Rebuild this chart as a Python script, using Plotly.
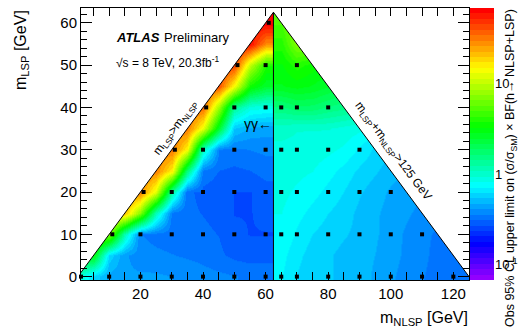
import colorsys
import numpy as np
import plotly.graph_objects as go

# ---------------- data ----------------
# Left region (m_NLSP < 62.5 GeV): observed limits, rows = m_LSP values
left_x = [0, 5, 10, 15, 20, 25, 30, 35, 40, 45, 50, 55, 60]
left_y = [0, 5, 10, 15, 20, 25, 30, 35, 40, 45, 50, 55, 60]
left_limit = [
    [1.0, 0.60, 0.45, 0.42, 0.42, 0.42, 0.41, 0.40, 0.38, 0.37, 0.36, 0.35, 0.35],
    [3.0, 3.0, 0.60, 0.42, 0.38, 0.37, 0.36, 0.35, 0.34, 0.32, 0.30, 0.29, 0.29],
    [7.0, 7.0, 7.0, 1.1, 0.36, 0.34, 0.33, 0.32, 0.32, 0.31, 0.28, 0.27, 0.27],
    [20, 20, 20, 20, 7.0, 1.1, 0.34, 0.32, 0.31, 0.30, 0.27, 0.27, 0.28],
    [30, 30, 30, 30, 30, 12, 1.3, 0.32, 0.30, 0.29, 0.27, 0.27, 0.29],
    [30, 30, 30, 30, 30, 30, 15, 1.6, 0.34, 0.31, 0.30, 0.31, 0.33],
    [32, 32, 32, 32, 32, 32, 32, 15, 1.1, 0.36, 0.35, 0.36, 0.37],
    [32, 32, 32, 32, 32, 32, 32, 32, 13, 2.5, 0.55, 0.46, 0.44],
    [35, 35, 35, 35, 35, 35, 35, 35, 35, 8.0, 1.4, 0.90, 0.85],
    [40, 40, 40, 40, 40, 40, 40, 40, 40, 40, 14, 3.5, 2.5],
    [45, 45, 45, 45, 45, 45, 45, 45, 45, 45, 45, 10, 3.8],
    [60, 60, 60, 60, 60, 60, 60, 60, 60, 60, 60, 60, 28],
    [65, 65, 65, 65, 65, 65, 65, 65, 65, 65, 65, 65, 65],
]

# Right region (m_NLSP > 62.5 GeV)
right_x = [65, 70, 75, 80, 85, 90, 95, 100, 105, 110, 115, 120, 125]
right_y = [0, 5, 10, 15, 20, 25, 30, 35, 40, 45, 50, 55, 60]
right_limit = [
    [0.72, 0.62, 0.56, 0.55, 0.52, 0.50, 0.46, 0.42, 0.39, 0.36, 0.34, 0.32, 0.32],
    [0.75, 0.65, 0.58, 0.55, 0.52, 0.50, 0.47, 0.43, 0.40, 0.37, 0.34, 0.33, 0.33],
    [0.80, 0.70, 0.62, 0.58, 0.55, 0.52, 0.48, 0.44, 0.40, 0.37, 0.35, 0.34, 0.34],
    [0.82, 0.75, 0.68, 0.62, 0.58, 0.52, 0.48, 0.45, 0.42, 0.39, 0.37, 0.36, 0.36],
    [0.85, 0.80, 0.75, 0.68, 0.62, 0.55, 0.50, 0.46, 0.44, 0.42, 0.40, 0.40, 0.40],
    [0.88, 0.85, 0.82, 0.75, 0.68, 0.60, 0.55, 0.50, 0.46, 0.44, 0.42, 0.42, 0.42],
    [0.90, 0.90, 0.88, 0.85, 0.80, 0.70, 0.60, 0.55, 0.50, 0.48, 0.45, 0.45, 0.45],
    [1.00, 0.95, 0.95, 0.95, 0.90, 0.85, 0.75, 0.65, 0.60, 0.55, 0.50, 0.50, 0.50],
    [1.6, 1.8, 1.8, 1.6, 1.5, 1.3, 1.1, 0.90, 0.80, 0.70, 0.60, 0.60, 0.60],
    [2.8, 3.0, 2.8, 2.5, 2.2, 2.0, 1.8, 1.6, 1.4, 1.2, 1.0, 1.0, 1.0],
    [3.2, 4.0, 3.5, 3.0, 2.8, 2.5, 2.2, 2.0, 1.8, 1.6, 1.4, 1.4, 1.4],
    [4.0, 7.0, 7.0, 6.0, 5.0, 4.0, 3.5, 3.0, 2.5, 2.2, 2.0, 2.0, 2.0],
    [5.0, 8.0, 8.0, 7.0, 6.0, 5.0, 4.0, 3.5, 3.0, 2.5, 2.2, 2.2, 2.2],
]

# Signal grid points (black squares)
pts_x = [1, 10, 20, 30, 40, 50, 60,
         11, 20, 30, 40, 50, 60,
         21, 30, 40, 50, 60,
         31, 40, 50, 60,
         41, 50, 60,
         51, 60,
         61,
         65, 70, 80, 90, 100, 110, 120,
         65, 70, 80, 90, 100, 110,
         65, 70, 80, 90, 100,
         65, 70, 80, 90,
         65, 70, 80,
         70]
pts_y = [0, 0, 0, 0, 0, 0, 0,
         10, 10, 10, 10, 10, 10,
         20, 20, 20, 20, 20,
         30, 30, 30, 30,
         40, 40, 40,
         50, 50,
         60,
         0, 0, 0, 0, 0, 0, 0,
         10, 10, 10, 10, 10, 10,
         20, 20, 20, 20, 20,
         30, 30, 30, 30,
         40, 40, 40,
         50]

cbar_major = [0.1, 1, 10]
cbar_major_text = ["10<sup>-1</sup>", "1", "10"]
cbar_minor = [0.07, 0.08, 0.09, 0.2, 0.3, 0.4, 0.5, 0.6, 0.7, 0.8, 0.9,
              2, 3, 4, 5, 6, 7, 8, 9, 20, 30, 40, 50, 60]

ZMIN, ZMAX = -1.167, 1.835
FONT = "Liberation Sans, Arial, Helvetica, sans-serif"

# ---------------- geometry helpers (pixels -> paper) ----------------
ML, MR, MT, MB = 81, 0, 8, 49
PW = 520 - ML - MR
PH = 329 - MT - MB
def px(p):
    return (p - ML) / float(PW)
def py(p):
    return (329 - MB - p) / float(PH)

PLOT_RIGHT = 469
CB_LEFT, CB_RIGHT = 470, 494

# ---------------- ROOT "pretty" palette (50 colours) ----------------
def hls(h):
    r, g, b = colorsys.hls_to_rgb(h / 360.0, 0.5, 1.0)
    return "rgb(%d,%d,%d)" % (round(r * 255), round(g * 255), round(b * 255))

N = 50
cscale = []
for i in range(N):
    c = hls(280 - (i + 1) * 280.0 / N)
    cscale.append([i / N, c])
    cscale.append([(i + 1) / N, c])

fig = go.Figure()

fig.add_trace(go.Heatmap(
    x=left_x, y=left_y, z=np.log10(np.array(left_limit)),
    zsmooth="best", zmin=ZMIN, zmax=ZMAX, colorscale=cscale,
    hoverinfo="skip",
    colorbar=dict(
        x=px(CB_LEFT), xanchor="left", xpad=0, y=0.5, yanchor="middle", ypad=0,
        len=1.0, lenmode="fraction", thickness=CB_RIGHT - CB_LEFT, outlinewidth=0,
        showticklabels=False, ticks="",
    ),
))
fig.add_trace(go.Heatmap(
    x=right_x, y=right_y, z=np.log10(np.array(right_limit)),
    zsmooth="best", zmin=ZMIN, zmax=ZMAX, colorscale=cscale,
    showscale=False, hoverinfo="skip",
))

# white masks outside the kinematically allowed triangles
fig.add_trace(go.Scatter(
    x=[-5, 62.5, 62.5, -5, -5], y=[-5, 62.5, 70, 70, -5],
    fill="toself", fillcolor="white", line=dict(width=0), mode="lines",
    hoverinfo="skip", showlegend=False))
fig.add_trace(go.Scatter(
    x=[62.5, 130, 130, 62.5, 62.5], y=[62.5, -5, 70, 70, 62.5],
    fill="toself", fillcolor="white", line=dict(width=0), mode="lines",
    hoverinfo="skip", showlegend=False))

# boundary lines
fig.add_trace(go.Scatter(
    x=[0, 62.5, 125], y=[0, 62.5, 0], mode="lines",
    line=dict(color="black", width=1), hoverinfo="skip", showlegend=False))
fig.add_trace(go.Scatter(
    x=[62.5, 62.5], y=[-1, 62.5], mode="lines",
    line=dict(color="black", width=1), hoverinfo="skip", showlegend=False))

# signal points
fig.add_trace(go.Scatter(
    x=pts_x, y=pts_y, mode="markers",
    marker=dict(symbol="square", size=4, color="black", line=dict(width=0)),
    hoverinfo="skip", showlegend=False, cliponaxis=False))

# invisible trace to activate the colour-bar axis
fig.add_trace(go.Scatter(
    x=[None], y=[None], yaxis="y2", mode="markers",
    hoverinfo="skip", showlegend=False))

ann = []
ann.append(dict(x=11.4, y=56.5, xref="x", yref="y", xanchor="left", yanchor="middle",
                text="<b><i>ATLAS</i></b>", showarrow=False,
                font=dict(family=FONT, size=13, color="black")))
ann.append(dict(x=27.0, y=56.5, xref="x", yref="y", xanchor="left", yanchor="middle",
                text="Preliminary", showarrow=False,
                font=dict(family=FONT, size=13, color="black")))
ann.append(dict(x=11.4, y=50.8, xref="x", yref="y", xanchor="left", yanchor="middle",
                text="√s = 8 TeV, 20.3fb<sup>-1</sup>", showarrow=False,
                font=dict(family=FONT, size=12, color="black")))
ann.append(dict(x=31.2, y=35.2, xref="x", yref="y", textangle=-53.4,
                text="m<sub>LSP</sub>>m<sub>NLSP</sub>", showarrow=False,
                font=dict(family=FONT, size=12, color="black")))
ann.append(dict(x=100.5, y=29.6, xref="x", yref="y", textangle=53.4,
                text="m<sub>LSP</sub>+m<sub>NLSP</sub>>125 GeV", showarrow=False,
                font=dict(family=FONT, size=12, color="black")))
ann.append(dict(x=62.7, y=36.1, xref="x", yref="y", xanchor="right", yanchor="middle",
                text="γγ←", showarrow=False,
                font=dict(family=FONT, size=14, color="black")))
# axis titles
ann.append(dict(x=px(21), y=py(MT), xref="paper", yref="paper",
                xanchor="center", yanchor="top", textangle=-90,
                text="m<sub>LSP</sub> [GeV]", showarrow=False,
                font=dict(family=FONT, size=16, color="black")))
ann.append(dict(x=px(470), y=py(318), xref="paper", yref="paper",
                xanchor="right", yanchor="middle",
                text="m<sub>NLSP</sub> [GeV]", showarrow=False,
                font=dict(family=FONT, size=16, color="black")))
# colour-bar title
ann.append(dict(x=px(511), y=py(329), xref="paper", yref="paper",
                xanchor="center", yanchor="bottom", textangle=-90,
                text="Obs 95% CL upper limit on (σ/σ<sub>SM</sub>) × BF(h→ NLSP+LSP)",
                showarrow=False,
                font=dict(family=FONT, size=12.5, color="black")))

axis_common = dict(
    showgrid=False, zeroline=False, showline=True, linecolor="black", linewidth=1,
    mirror="allticks", ticks="inside", tickcolor="black",
    tickfont=dict(family=FONT, size=15, color="black"),
)
fig.update_layout(
    width=520, height=329, autosize=False,
    margin=dict(l=ML, r=MR, t=MT, b=MB, autoexpand=False),
    paper_bgcolor="white", plot_bgcolor="white",
    showlegend=False,
    xaxis=dict(domain=[0, px(PLOT_RIGHT)], range=[1, 125], tick0=0, dtick=20, ticklen=8,
               minor=dict(dtick=5, tick0=0, ticklen=4, ticks="inside", tickcolor="black"),
               **axis_common),
    yaxis=dict(range=[-0.8, 63.5], tick0=0, dtick=10, ticklen=11,
               minor=dict(dtick=2, tick0=0, ticklen=6, ticks="inside", tickcolor="black"),
               **axis_common),
    yaxis2=dict(overlaying="y", anchor="free", position=px(CB_RIGHT), side="right",
                type="log", range=[ZMIN, ZMAX], showgrid=False, zeroline=False,
                showline=False, tickmode="array", tickvals=cbar_major,
                ticktext=cbar_major_text, ticks="inside", ticklen=8,
                tickcolor="black", tickfont=dict(family=FONT, size=13, color="black"),
                minor=dict(tickmode="array", tickvals=cbar_minor, ticks="inside",
                           ticklen=4, tickcolor="black")),
    annotations=ann,
)

fig.write_html(
    "out.html",
    config={"displayModeBar": False, "staticPlot": True},
    post_script="document.body.style.margin='0';document.body.style.padding='0';",
)
